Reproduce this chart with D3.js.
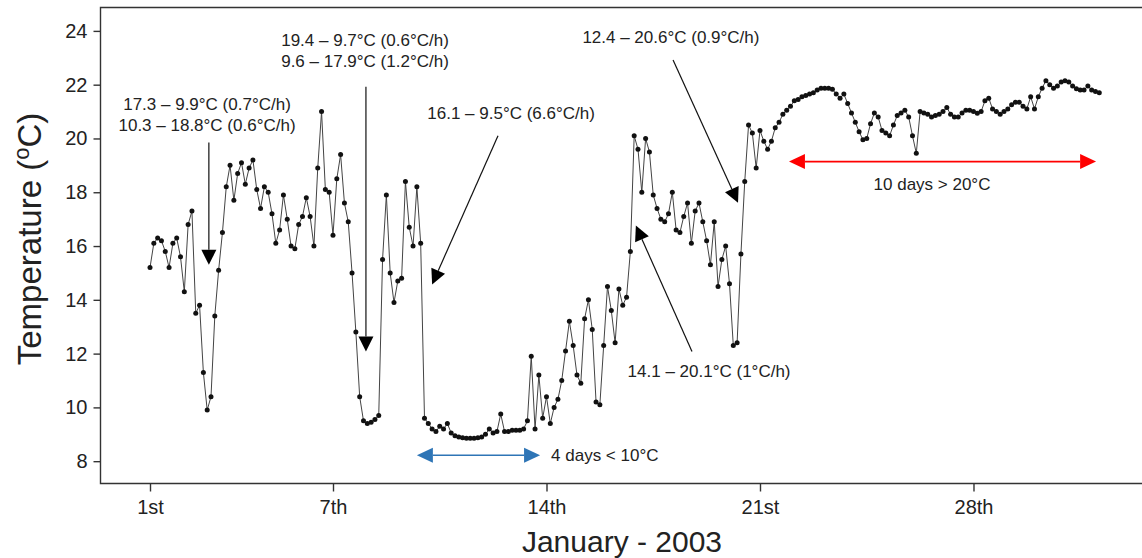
<!DOCTYPE html>
<html>
<head>
<meta charset="utf-8">
<script src="https://cdnjs.cloudflare.com/ajax/libs/d3/7.8.5/d3.min.js"></script>
<style>
  body { margin: 0; background: #fff; }
  svg text { font-family: "Liberation Sans", Arial, sans-serif; fill: #222; }
</style>
</head>
<body>
<script>
// logger readings, one every 3 hours from 1 Jan 2003 00:00
var startDate = Date.UTC(2003, 0, 1);
var stepHours = 3;
var temps = [
  15.2, 16.1, 16.3, 16.2, 15.8, 15.2, 16.1, 16.3,
  15.6, 14.3, 16.8, 17.3, 13.5, 13.8, 11.3, 9.9,
  10.4, 13.4, 15.1, 16.5, 18.2, 19.0, 17.7, 18.7,
  19.1, 18.3, 18.9, 19.2, 18.1, 17.4, 18.2, 18.0,
  17.2, 16.1, 16.6, 17.9, 17.0, 16.0, 15.9, 16.8,
  17.1, 17.8, 17.1, 16.0, 18.9, 21.0, 18.1, 18.0,
  16.4, 18.5, 19.4, 17.6, 16.9, 15.0, 12.8, 10.4,
  9.5, 9.4, 9.45, 9.55, 9.7, 15.5, 17.9, 15.0,
  13.9, 14.7, 14.8, 18.4, 16.7, 16.0, 18.2, 16.1,
  9.6, 9.4, 9.2, 9.1, 9.3, 9.2, 9.4, 9.05,
  8.95, 8.9, 8.87, 8.85, 8.85, 8.85, 8.87, 8.9,
  9.0, 9.2, 9.05, 9.1, 9.75, 9.1, 9.1, 9.15,
  9.15, 9.15, 9.2, 9.5, 11.9, 9.2, 11.2, 9.6,
  10.4, 9.4, 10.0, 10.3, 11.0, 12.1, 13.2, 12.3,
  11.2, 10.9, 13.3, 14.0, 12.9, 10.2, 10.1, 12.3,
  14.5, 13.6, 12.4, 14.4, 13.8, 14.1, 15.8, 20.1,
  19.6, 18.0, 20.0, 19.5, 17.9, 17.4, 17.0, 16.9,
  17.2, 18.0, 16.6, 16.5, 17.1, 17.6, 16.1, 17.3,
  17.6, 16.9, 16.2, 15.3, 16.9, 14.5, 15.5, 16.0,
  14.6, 12.3, 12.4, 15.7, 18.4, 20.5, 20.2, 18.9,
  20.3, 19.9, 19.6, 19.9, 20.4, 20.6, 20.9, 21.05,
  21.2, 21.4, 21.45, 21.55, 21.6, 21.65, 21.7, 21.8,
  21.87, 21.87, 21.87, 21.83, 21.65, 21.5, 21.65, 21.3,
  20.95, 20.6, 20.25, 19.95, 20.0, 20.55, 20.95, 20.8,
  20.3, 20.2, 20.1, 20.5, 20.85, 20.95, 21.05, 20.8,
  20.1, 19.45, 21.0, 20.95, 20.9, 20.8, 20.85, 20.9,
  21.0, 21.15, 20.9, 20.8, 20.8, 20.95, 21.05, 21.05,
  21.0, 20.94, 21.0, 21.4, 21.5, 21.1, 21.0, 20.9,
  21.0, 21.1, 21.25, 21.35, 21.35, 21.2, 21.1, 21.55,
  21.1, 21.55, 21.87, 22.15, 22.0, 21.87, 21.95, 22.1,
  22.15, 22.1, 21.95, 21.85, 21.8, 21.8, 21.95, 21.8,
  21.75, 21.7
];

var tickDays = [1, 7, 14, 21, 28];
var tickLabels = ['1st', '7th', '14th', '21st', '28th'];
var yTicks = [8, 10, 12, 14, 16, 18, 20, 22, 24];

var DAY = 86400000;
function dayAt(d) { return new Date(startDate + d * DAY); }

var readings = temps.map(function(t, i) {
  return { time: new Date(startDate + i * stepHours * 3600000), temp: t };
});

var W = 1142, H = 558;
var plotL = 100.5, plotT = 7.5, plotB = 483.5, plotR = 1142;

var svg = d3.select('body').append('svg')
  .attr('width', W)
  .attr('height', H);

var x = d3.scaleUtc()
  .domain([dayAt(-1.623), dayAt(32.525)])
  .range([plotL, plotR]);

var y = d3.scaleLinear()
  .domain([7.17, 24.87])
  .range([plotB, plotT]);

// axes
var xAxis = d3.axisBottom(x)
  .tickValues(tickDays.map(function(d) { return dayAt(d - 1); }))
  .tickFormat(function(d, i) { return tickLabels[i]; })
  .tickSize(8).tickPadding(8);
var yAxis = d3.axisLeft(y)
  .tickValues(yTicks)
  .tickSize(7).tickPadding(6);

var gx = svg.append('g').attr('transform', 'translate(0,' + plotB + ')').call(xAxis);
var gy = svg.append('g').attr('transform', 'translate(' + plotL + ',0)').call(yAxis);
[gx, gy].forEach(function(g) {
  g.select('.domain').remove();
  g.selectAll('.tick line').attr('stroke', '#333').attr('stroke-width', 1.4);
  g.selectAll('.tick text').attr('font-size', 20).attr('fill', '#222');
});

// frame: left, bottom and top
svg.append('path')
  .attr('d', 'M' + plotR + ',' + plotT + 'H' + plotL + 'V' + plotB + 'H' + plotR)
  .attr('fill', 'none')
  .attr('stroke', '#333')
  .attr('stroke-width', 1.4);

// titles
svg.append('text')
  .attr('x', 622).attr('y', 552)
  .attr('text-anchor', 'middle')
  .attr('font-size', 30)
  .text('January - 2003');

var yt = svg.append('text')
  .attr('transform', 'translate(41,' + 239 + ') rotate(-90)')
  .attr('text-anchor', 'middle')
  .attr('font-size', 33);
yt.append('tspan').text('Temperature (');
yt.append('tspan').attr('font-size', 22).attr('dy', -12).text('o');
yt.append('tspan').attr('dy', 12).text('C)');

// series
var line = d3.line()
  .x(function(d) { return x(d.time); })
  .y(function(d) { return y(d.temp); });

svg.append('path')
  .datum(readings)
  .attr('fill', 'none')
  .attr('stroke', '#444')
  .attr('stroke-width', 1)
  .attr('d', line);

svg.selectAll('circle.pt')
  .data(readings)
  .enter()
  .append('circle')
  .attr('class', 'pt')
  .attr('cx', function(d) { return x(d.time); })
  .attr('cy', function(d) { return y(d.temp); })
  .attr('r', 2.5)
  .attr('fill', '#111');

// annotations, positions in (day offset, °C)
var notes = [
  { lines: ['17.3 \u2013 9.9°C (0.7°C/h)', '10.3 \u2013 18.8°C (0.6°C/h)'], at: [1.87, 21.29], from: [1.93, 19.85], to: [1.93, 15.3] },
  { lines: ['19.4 \u2013 9.7°C (0.6°C/h)', '9.6 \u2013 17.9°C (1.2°C/h)'], at: [7.05, 23.66], from: [7.08, 21.92], to: [7.08, 12.08] },
  { lines: ['16.1 \u2013 9.5°C (6.6°C/h)'], at: [11.84, 20.95], from: [11.41, 20.1], to: [9.25, 14.57] },
  { lines: ['12.4 \u2013 20.6°C (0.9°C/h)'], at: [17.08, 23.78], from: [17.15, 22.92], to: [19.28, 17.61] },
  { lines: ['14.1 \u2013 20.1°C (1°C/h)'], at: [18.33, 11.34], from: [17.77, 12.08], to: [15.93, 16.76] }
];

var spans = [
  { label: '4 days < 10°C', from: 8.75, to: 12.79, temp: 8.22, color: '#2e75b6', textAt: [13.15, 8.22], anchor: 'start' },
  { label: '10 days > 20°C', from: 20.95, to: 31.02, temp: 19.14, color: '#ff0000', textAt: [25.64, 18.32], anchor: 'middle' }
];

function px(p) { return [x(dayAt(p[0])), y(p[1])]; }

function head(g, tip, tail, len, wid, color) {
  var dx = tip[0] - tail[0], dy = tip[1] - tail[1];
  var L = Math.sqrt(dx * dx + dy * dy);
  var ux = dx / L, uy = dy / L;
  var bx = tip[0] - ux * len, by = tip[1] - uy * len;
  g.append('polygon')
    .attr('points', [
      [tip[0], tip[1]],
      [bx - uy * wid / 2, by + ux * wid / 2],
      [bx + uy * wid / 2, by - ux * wid / 2]
    ].map(function(p) { return p.join(','); }).join(' '))
    .attr('fill', color);
  return [bx, by];
}

var ann = svg.append('g');
notes.forEach(function(n) {
  var a = px(n.from), b = px(n.to);
  var base = head(ann, b, a, 15, 15, '#000');
  ann.append('line')
    .attr('x1', a[0]).attr('y1', a[1])
    .attr('x2', base[0]).attr('y2', base[1])
    .attr('stroke', '#111').attr('stroke-width', 1.2);
  var t = px(n.at);
  n.lines.forEach(function(s, i) {
    ann.append('text')
      .attr('x', t[0]).attr('y', t[1] + i * 21)
      .attr('dy', '0.35em')
      .attr('text-anchor', 'middle')
      .attr('font-size', 17)
      .text(s);
  });
});

spans.forEach(function(s) {
  var a = px([s.from, s.temp]), b = px([s.to, s.temp]);
  var b1 = head(ann, b, a, 16, 15, s.color);
  var a1 = head(ann, a, b, 16, 15, s.color);
  ann.append('line')
    .attr('x1', a1[0]).attr('y1', a1[1])
    .attr('x2', b1[0]).attr('y2', b1[1])
    .attr('stroke', s.color).attr('stroke-width', 1.6);
  var t = px(s.textAt);
  ann.append('text')
    .attr('x', t[0]).attr('y', t[1])
    .attr('dy', '0.35em')
    .attr('text-anchor', s.anchor)
    .attr('font-size', 17)
    .text(s.label);
});
</script>
</body>
</html>
